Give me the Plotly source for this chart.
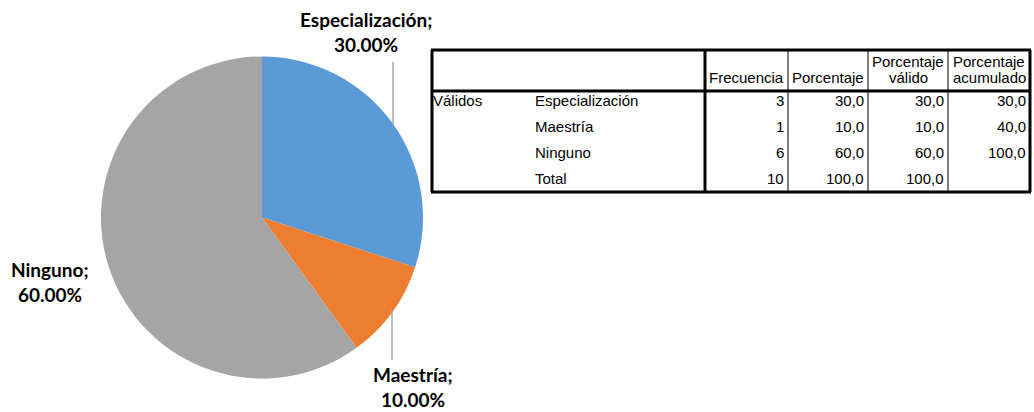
import plotly.graph_objects as go

# ---- data ----
categories = ["Especialización", "Maestría", "Ninguno"]
pie_values = [30.0, 10.0, 60.0]
colors = ["#5B9BD5", "#ED7D31", "#A5A5A5"]

group_label = "Válidos"
row_labels = ["Especialización", "Maestría", "Ninguno", "Total"]
frecuencia = [3, 1, 6, 10]
porcentaje = [30.0, 10.0, 60.0, 100.0]
porc_valido = [30.0, 10.0, 60.0, 100.0]
porc_acumulado = [30.0, 40.0, 100.0, None]
header_line1 = ["", "", "Porcentaje", "Porcentaje"]
header_line2 = ["Frecuencia", "Porcentaje", "válido", "acumulado"]

W, H = 1034, 412


def px(x):
    return x / W


def py(y):
    return 1 - y / H


fig = go.Figure()

# pie chart
cx, cy, r = 262, 217.5, 161
fig.add_trace(go.Pie(
    labels=categories, values=pie_values, sort=False, direction="clockwise",
    rotation=0, textinfo="none", hoverinfo="label+percent",
    marker=dict(colors=colors, line=dict(width=0)),
    domain=dict(x=[px(cx - r), px(cx + r)], y=[py(cy + r), py(cy - r)]),
    showlegend=False,
))

annotations = []
shapes = []

lab_font = dict(family="Lato, Carlito, sans-serif", size=19, color="#000000")
label_pos = {
    "Especialización": (366, 20),
    "Maestría": (413, 374),
    "Ninguno": (50, 269),
}
for cat, val in zip(categories, pie_values):
    x, y = label_pos[cat]
    annotations.append(dict(x=px(x), y=py(y), xref="paper", yref="paper",
                            text="<b>%s;</b>" % cat, showarrow=False, borderpad=0,
                            xanchor="center", yanchor="middle", font=lab_font))
    annotations.append(dict(x=px(x), y=py(y + 25), xref="paper", yref="paper",
                            text="<b>%.2f%%</b>" % val, showarrow=False, borderpad=0,
                            xanchor="center", yanchor="middle", font=lab_font))

# leader lines
for (x0, y0, x1, y1) in [(393, 62, 393, 125), (392, 310, 392, 360)]:
    shapes.append(dict(type="line", xref="paper", yref="paper",
                       x0=px(x0), y0=py(y0), x1=px(x1), y1=py(y1),
                       line=dict(color="#A6A6A6", width=1.5)))

# ---- table ----
tfont = dict(family="Liberation Sans, Arial, sans-serif", size=15, color="#000000")
left, right = 432, 1030
top, head_bot, bot = 50, 91, 192
col_split = 705
data_cols = [705, 788, 868, 948, 1030]

# thick lines
for (x0, y0, x1, y1) in [(left - 1, top, right + 1, top), (left - 1, head_bot, right + 1, head_bot),
                         (left - 1, bot, right + 1, bot), (left, top, left, bot),
                         (right, top, right, bot), (col_split, top, col_split, bot)]:
    shapes.append(dict(type="line", xref="paper", yref="paper",
                       x0=px(x0), y0=py(y0), x1=px(x1), y1=py(y1),
                       line=dict(color="#000000", width=3)))
# thin lines
for xv in data_cols[1:-1]:
    shapes.append(dict(type="line", xref="paper", yref="paper",
                       x0=px(xv), y0=py(top), x1=px(xv), y1=py(bot),
                       line=dict(color="#000000", width=1)))


def txt(x, y, s, anchor):
    annotations.append(dict(x=px(x), y=py(y), xref="paper", yref="paper", text=s,
                            showarrow=False, xanchor=anchor, yanchor="middle",
                            font=tfont))


for i in range(4):
    cxm = (data_cols[i] + data_cols[i + 1]) / 2
    if header_line1[i]:
        txt(cxm, 61, header_line1[i], "center")
    txt(cxm, 77, header_line2[i], "center")

row_y = [100, 127, 153, 179]
txt(431, row_y[0], group_label, "left")


def fmt(v):
    if v is None:
        return ""
    return ("%.1f" % v).replace(".", ",")


for i, lab in enumerate(row_labels):
    y = row_y[i]
    txt(533, y, lab, "left")
    vals = [str(frecuencia[i]), fmt(porcentaje[i]), fmt(porc_valido[i]), fmt(porc_acumulado[i])]
    for j, s in enumerate(vals):
        if s:
            txt(data_cols[j + 1] - 2, y, s, "right")

fig.update_layout(
    width=W, height=H, margin=dict(l=0, r=0, t=0, b=0),
    paper_bgcolor="#FFFFFF", plot_bgcolor="#FFFFFF",
    annotations=annotations, shapes=shapes, showlegend=False,
)

fig.write_html(
    "out.html",
    config={"displayModeBar": False},
    post_script="document.body.style.margin='0';document.body.style.overflow='hidden';",
)
